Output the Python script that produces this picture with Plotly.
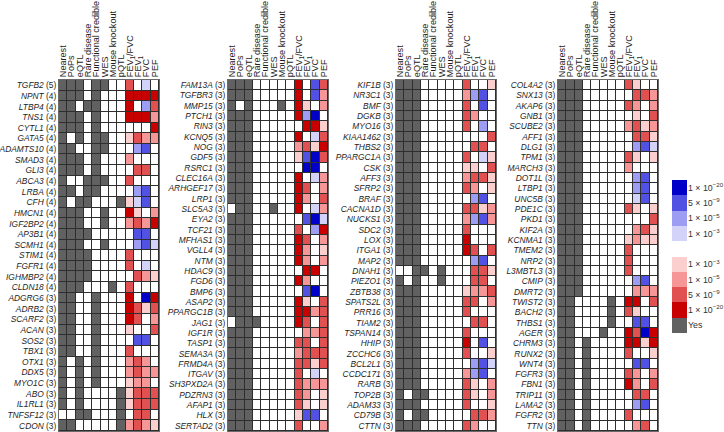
import plotly.graph_objects as go

columns = ["Nearest", "PoPs", "eQTL", "Rare disease", "Functional credible", "WES",
           "Mouse knockout", "pQTL", "FEV<sub>1</sub>/FVC", "FEV<sub>1</sub>", "FVC", "PEF"]

# evidence: Nearest, PoPs, eQTL, Rare disease, Functional credible, WES, Mouse knockout, pQTL
# assoc: signed p-value level for FEV1/FVC, FEV1, FVC, PEF (+ red, - blue; 1=1e-3, 2=1e-5, 3=5e-9, 4=1e-20)
p1_genes = ["TGFB2", "NPNT", "LTBP4", "TNS1", "CYTL1", "GATA5", "ADAMTS10", "SMAD3", "GLI3", "ABCA3",
            "LRBA", "CFH", "HMCN1", "IGF2BP2", "AP3B1", "SCMH1", "STIM1", "FGFR1", "IGHMBP2", "CLDN18",
            "ADGRG6", "ADRB2", "SCARF2", "ACAN", "SOS2", "TBX1", "OTX1", "DDX5", "MYO1C", "ABO",
            "IL1RL1", "TNFSF12", "CDON"]
p1_counts = [5, 4, 4, 4, 4, 4, 4, 4, 4, 4, 4, 4, 4, 4, 4, 4, 4, 4, 4, 4,
             3, 3, 3, 3, 3, 3, 3, 3, 3, 3, 3, 3, 3]
p1_evidence = ["11101100", "11101000", "11011000", "11101000", "11101000", "10101100", "11001100",
               "11101000", "11101000", "10011100", "11011000", "10110001", "11100100", "11100100",
               "11110000", "11100100", "11110000", "11110000", "11110000", "11100010", "11001000",
               "11001000", "11001000", "11001000", "11001000", "11001000", "10101000", "10101000",
               "10101000", "10100001", "10100001", "00110001", "11000001"]
p1_assoc = [[3, 0, -1, 0], [4, 4, 4, 4], [4, 0, -2, 3], [4, 4, 4, 2], [0, 0, 0, 4], [1, 3, 2, 2],
            [0, -2, -3, 0], [2, 0, 0, 0], [0, 3, 3, 0], [3, 0, 0, 0], [0, -2, -3, 0], [1, -1, -3, 0],
            [4, 1, 0, 2], [2, 3, 2, 4], [0, -3, -3, 0], [0, -2, -3, -1], [3, 0, 0, 0], [3, 0, -1, 0],
            [0, 3, 2, 1], [3, 0, 0, 0], [4, 0, -4, 4], [4, 3, 1, 3], [4, 3, 0, 2], [1, 0, 0, 3],
            [0, -3, -3, 0], [3, 0, 0, 0], [2, 3, 2, 0], [2, 3, 2, 2], [1, 2, 2, 0], [1, 3, 3, 3],
            [1, 3, 3, 3], [0, 3, 3, 0], [2, 3, 2, 1]]

p2_genes = ["FAM13A", "TGFBR3", "MMP15", "PTCH1", "RIN3", "KCNQ5", "NOG", "GDF5", "RSRC1", "CLEC16A",
            "ARHGEF17", "LRP1", "SLC5A3", "EYA2", "TCF21", "MFHAS1", "VGLL4", "NTM", "HDAC9", "FGD6",
            "BMP6", "ASAP2", "PPARGC1B", "JAG1", "IGF1R", "TASP1", "SEMA3A", "FRMD4A", "ITGAV",
            "SH3PXD2A", "PDZRN3", "AFAP1", "HLX", "SERTAD2"]
p2_counts = [3] * 34
p2_evidence = ["11100000", "11100000", "10100010", "11100000", "11100000", "11100000", "11100000",
               "11100000", "11100000", "11100000", "11100000", "11100000", "01100100", "11100000",
               "11100000", "11100000", "11100000", "11100000", "11100000", "11100000", "11100000",
               "11100000", "11100000", "01110000", "11100000", "11100000", "11100000", "11100000",
               "11100000", "11100000", "11100000", "11100000", "11100000", "11100000"]
p2_assoc = [[4, 0, -3, 3], [4, 0, -3, 2], [4, 1, 0, 2], [4, -2, -4, 0], [0, 4, 4, 1], [4, 0, -1, 3],
            [2, 3, 1, 4], [1, -3, -4, 3], [0, -4, -4, 0], [4, 0, -1, 2], [4, 3, 0, 2], [4, 2, 0, 3],
            [4, 0, -1, 2], [0, -3, -4, -1], [3, 0, -2, 4], [4, 3, 0, 2], [4, 2, 0, 1], [4, 2, 0, 2],
            [0, 4, 4, 0], [4, 2, 0, 0], [0, -3, -4, 0], [4, 1, 0, 3], [4, 4, 2, 3], [4, 3, 0, 3],
            [0, 2, 2, 3], [3, 3, 0, 3], [2, 3, 3, 3], [3, 3, 1, 3], [3, 0, -1, 0], [3, 2, 2, 2],
            [3, 2, 0, 1], [3, 1, 0, 1], [1, -3, -3, 0], [3, 0, 0, 2]]

p3_genes = ["KIF1B", "NR3C1", "BMF", "DGKB", "MYO16", "KIAA1462", "THBS2", "PPARGC1A", "CSK", "AFF3",
            "SFRP2", "BRAF", "CACNA1D", "NUCKS1", "SDC2", "LOX", "ITGA1", "MAP2", "DNAH1", "PIEZO1",
            "ZBTB38", "SPATS2L", "PRR16", "TIAM2", "TSPAN14", "HHIP", "ZCCHC6", "BCL2L1", "CCDC171",
            "RARB", "TOP2B", "ADAM33", "CD79B", "CTTN"]
p3_counts = [3] * 34
p3_evidence = ["11100000"] * 18 + ["00110100", "10100100"] + ["11100000"] * 10 + \
              ["10110000", "11100000", "10110000", "11100000"]
p3_assoc = [[3, 0, 0, 1], [2, -2, -3, 0], [3, 0, -3, 0], [3, 2, 0, 0], [3, 0, -2, 0], [0, 0, 0, 3],
            [0, 3, 3, 0], [3, 0, -1, 1], [1, 1, 0, 3], [2, 3, 3, 1], [3, 2, 0, 1], [0, -2, -3, 0],
            [3, 3, 1, 2], [2, -2, -3, 2], [3, 0, 0, 0], [4, 0, 0, 0], [4, 3, 0, 3], [0, -2, -3, 0],
            [0, 3, 3, 1], [0, 3, 3, 0], [1, 2, 2, 3], [3, 3, 0, 2], [3, 0, 0, 0], [0, 3, 3, 0],
            [3, 0, 0, 0], [4, 0, -3, 0], [3, 0, 0, 1], [0, -2, -3, -1], [2, -2, -3, 0], [3, 1, 0, 2],
            [3, 1, 0, 2], [3, 0, 0, 1], [0, 3, 3, 2], [3, 2, 0, 0]]

p4_genes = ["COL4A2", "SNX13", "AKAP6", "GNB1", "SCUBE2", "AFF1", "DLG1", "TPM1", "MARCH3", "DOT1L",
            "LTBP1", "UNC5B", "PDE1C", "PKD1", "KIF2A", "KCNMA1", "TMEM2", "NRP2", "L3MBTL3", "CMIP",
            "DMRT2", "TWIST2", "BACH2", "THBS1", "AGER", "CHRM3", "RUNX2", "WNT4", "FGFR3", "FBN1",
            "TRIP11", "LAMA2", "FGFR2", "TTN"]
p4_counts = [3] * 34
p4_evidence = ["11100000"] * 21 + ["11000010", "11000010", "11000010", "11000100"] + ["11010000"] * 9
p4_assoc = [[3, 1, 0, 0], [0, 3, 3, 2], [3, 2, 0, 2], [0, 1, 0, 3], [2, 3, 1, 2], [0, 3, 3, 1],
            [0, -2, -3, -1], [3, 1, 0, 1], [2, 0, 0, 0], [0, -2, -3, 0], [0, -2, -3, 0], [0, -1, -3, 0],
            [3, 1, 0, 1], [0, 0, 0, 3], [0, 2, 3, 1], [1, 2, 1, 1], [3, 0, 0, 0], [3, 0, 0, 0],
            [3, 0, 0, 0], [0, -2, -3, 0], [0, 2, 2, 2], [4, 4, 0, 3], [3, 1, 0, 0], [0, -3, -3, 0],
            [4, 3, -4, 4], [4, 4, 1, 4], [3, 0, 0, 1], [0, -3, -3, 0], [3, 2, 0, 2], [4, 2, 0, 3],
            [0, 3, 3, 0], [0, -2, -3, 0], [3, 0, 0, 0], [0, 2, 3, 0]]

legend_labels = ["1 × 10<sup>−20</sup>", "5 × 10<sup>−9</sup>", "1 × 10<sup>−5</sup>", "1 × 10<sup>−3</sup>",
                 "", "1 × 10<sup>−3</sup>", "1 × 10<sup>−5</sup>", "5 × 10<sup>−9</sup>",
                 "1 × 10<sup>−20</sup>", "Yes"]
legend_codes = [-4, -3, -2, -1, 0, 1, 2, 3, 4, 5]

# colours for codes -4..5
code_colors = {-4: "#0000c8", -3: "#5151e3", -2: "#9d9df3", -1: "#d3d3f9", 0: "#ffffff",
               1: "#fccfcf", 2: "#f79696", 3: "#e25151", 4: "#c80000", 5: "#616161"}
order = [-4, -3, -2, -1, 0, 1, 2, 3, 4, 5]
colorscale = []
for i, v in enumerate(order):
    colorscale.append([i / 10, code_colors[v]])
    colorscale.append([(i + 1) / 10, code_colors[v]])

panels = [(p1_genes, p1_counts, p1_evidence, p1_assoc),
          (p2_genes, p2_counts, p2_evidence, p2_assoc),
          (p3_genes, p3_counts, p3_evidence, p3_assoc),
          (p4_genes, p4_counts, p4_evidence, p4_assoc)]

W, H = 724, 432
x_left_px = [59, 228, 396, 558]
grid_w = 100
y_top_px, y_bot_px = 80, 431

font_family = "Liberation Sans, Arial, sans-serif"
text_color = "#1e1e1e"

fig = go.Figure()
layout = dict(width=W, height=H, margin=dict(l=0, r=0, t=0, b=0),
              paper_bgcolor="white", plot_bgcolor="#2e2e2e", showlegend=False,
              font=dict(family=font_family, color=text_color, size=9))

for k, (genes, counts, evid, assoc) in enumerate(panels, start=1):
    z = [[5 if c == "1" else 0 for c in ev] + list(a) for ev, a in zip(evid, assoc)]
    n = len(genes)
    fig.add_trace(go.Heatmap(z=z, x=list(range(12)), y=list(range(n)),
                             colorscale=colorscale, zmin=-4.5, zmax=5.5, showscale=False,
                             xgap=1, ygap=1, hoverinfo="skip",
                             xaxis=f"x{k}", yaxis=f"y{k}"))
    x0 = x_left_px[k - 1]
    layout[f"xaxis{k}"] = dict(domain=[x0 / W, (x0 + grid_w) / W], range=[-0.5, 11.5],
                               anchor=f"y{k}", side="top", tickmode="array",
                               tickvals=list(range(12)), ticktext=columns, tickangle=-90,
                               ticks="", showgrid=False, zeroline=False,
                               showline=True, mirror=True, linecolor="#6a6a6a", linewidth=1,
                               tickfont=dict(size=9.1, family=font_family, color=text_color),
                               automargin=False, fixedrange=True)
    layout[f"yaxis{k}"] = dict(domain=[1 - y_bot_px / H, 1 - y_top_px / H], range=[n - 0.5, -0.5],
                               anchor=f"x{k}", tickmode="array", tickvals=list(range(n)),
                               ticktext=[f"<i>{g}</i> ({c})" for g, c in zip(genes, counts)],
                               ticks="", showgrid=False, zeroline=False,
                               showline=True, mirror=True, linecolor="#6a6a6a", linewidth=1,
                               tickfont=dict(size=8.4, family=font_family, color=text_color),
                               automargin=False, fixedrange=True)

# legend key
fig.add_trace(go.Heatmap(z=[[v] for v in legend_codes], x=[0], y=list(range(len(legend_codes))),
                         colorscale=colorscale, zmin=-4.5, zmax=5.5, showscale=False,
                         xgap=0, ygap=0, hoverinfo="skip", xaxis="x5", yaxis="y5"))
layout["xaxis5"] = dict(domain=[672 / W, 687 / W], range=[-0.5, 0.5], anchor="y5",
                        showticklabels=False, ticks="", showgrid=False, zeroline=False,
                        showline=False, fixedrange=True)
layout["yaxis5"] = dict(domain=[1 - 333 / H, 1 - 180 / H], range=[len(legend_codes) - 0.5, -0.5],
                        anchor="x5", side="right", tickmode="array",
                        tickvals=list(range(len(legend_codes))), ticktext=legend_labels,
                        ticks="", showgrid=False, zeroline=False, showline=False,
                        tickfont=dict(size=8.8, family=font_family, color="#333333"),
                        automargin=False, fixedrange=True)

fig.update_layout(**layout)
fig.write_html("out.html", config={"displayModeBar": False},
               post_script="document.body.style.margin='0px';document.body.style.overflow='hidden';")
